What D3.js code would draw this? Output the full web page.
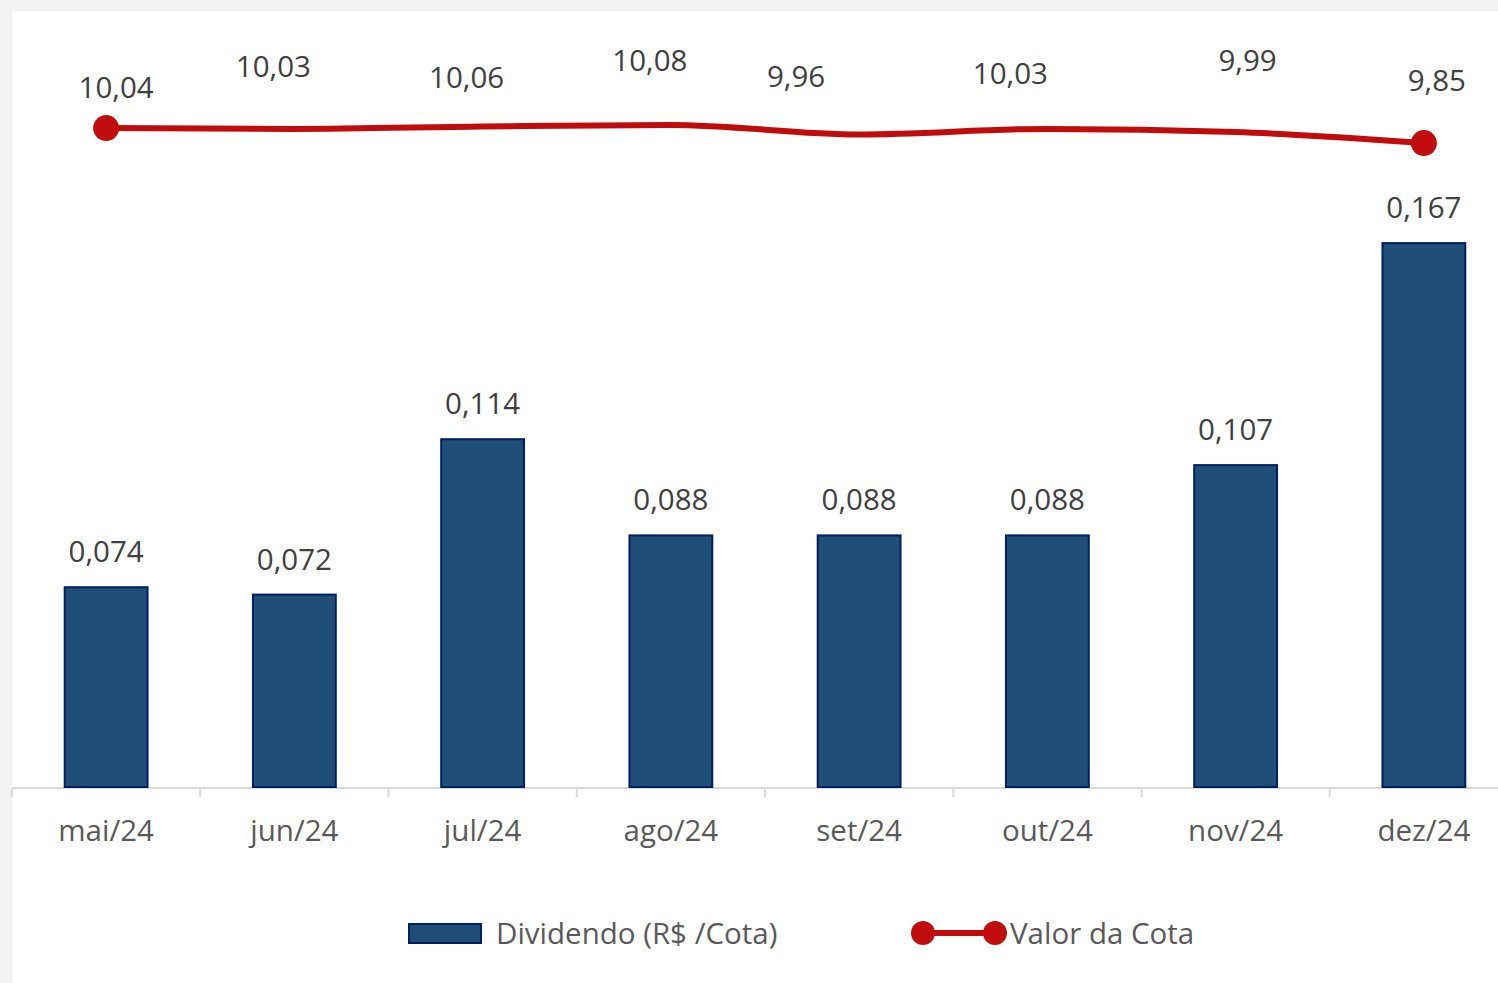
<!DOCTYPE html>
<html>
<head>
<meta charset="utf-8">
<script src="https://cdn.jsdelivr.net/npm/d3@7"></script>
<style>
  body { margin: 0; background: #f2f2f2; }
  svg { display: block; font-family: "Open Sans", "Noto Sans", sans-serif; }
</style>
</head>
<body>
<svg id="chart"></svg>
<script>
/* dividend bars + quota value line */

const months = ["mai/24", "jun/24", "jul/24", "ago/24", "set/24", "out/24", "nov/24", "dez/24"];
const dividendo = [0.074, 0.072, 0.114, 0.088, 0.088, 0.088, 0.107, 0.167];
const valorCota = [10.04, 10.03, 10.06, 10.08, 9.96, 10.03, 9.99, 9.85];
// manual nudges of the quota labels (dx, dy from the point), as in the source
const cotaLabelNudge = [[10, -30], [-21, -52], [-16, -39], [-21, -54], [-63, -47], [-37, -45], [12, -61], [13, -52]];

const width = 1498, height = 983;
const fmt = (v, d) => v.toFixed(d).replace(".", ",");
const fs = "29.5px";

const svg = d3.select("#chart").attr("width", width).attr("height", height);

svg.append("rect").attr("x", 12).attr("y", 11)
  .attr("width", width - 12).attr("height", height - 11).attr("fill", "#fff");

/*** scales */
const x = d3.scaleBand().domain(months).range([12, 1518]).paddingInner(0.56).paddingOuter(0.28);
const y = d3.scaleLinear().domain([0.02, 0.18]).range([787, 195]);
const y2 = d3.scaleLinear().domain([9.0, 10.5]).range([210.2, 91.8]);

/*** x axis */
const xAxis = svg.append("g").attr("transform", "translate(0,788)");
xAxis.append("line").attr("x1", 12).attr("x2", 1518).attr("stroke", "#d9d9d9").attr("stroke-width", 2);
const step = x.step();
xAxis.selectAll("line.tick")
  .data(d3.range(months.length + 1))
  .join("line")
  .attr("class", "tick")
  .attr("x1", i => 12 + i * step).attr("x2", i => 12 + i * step)
  .attr("y1", 0).attr("y2", 9)
  .attr("stroke", "#d9d9d9").attr("stroke-width", 2);
xAxis.selectAll("text")
  .data(months)
  .join("text")
  .attr("x", d => x(d) + x.bandwidth() / 2)
  .attr("y", 53)
  .attr("text-anchor", "middle")
  .attr("font-size", fs)
  .attr("fill", "#595959")
  .text(d => d);

/*** bars */
svg.append("g")
  .selectAll("rect")
  .data(dividendo)
  .join("rect")
  .attr("x", (d, i) => x(months[i]))
  .attr("width", x.bandwidth())
  .attr("y", d => y(d))
  .attr("height", d => y(0.02) - y(d))
  .attr("fill", "#1f4e79")
  .attr("stroke", "#002060")
  .attr("stroke-width", 2);

svg.append("g")
  .selectAll("text")
  .data(dividendo)
  .join("text")
  .attr("x", (d, i) => x(months[i]) + x.bandwidth() / 2)
  .attr("y", d => y(d) - 25)
  .attr("text-anchor", "middle")
  .attr("font-size", fs)
  .attr("fill", "#404040")
  .text(d => fmt(d, 3));

/*** line */
const cx = i => x(months[i]) + x.bandwidth() / 2;
const line = d3.line().x((d, i) => cx(i)).y(d => y2(d)).curve(d3.curveMonotoneX);

svg.append("path")
  .datum(valorCota)
  .attr("d", line)
  .attr("fill", "none")
  .attr("stroke", "#c00c0c")
  .attr("stroke-width", 6);

svg.append("g")
  .selectAll("circle")
  .data([0, valorCota.length - 1])
  .join("circle")
  .attr("cx", i => cx(i))
  .attr("cy", i => y2(valorCota[i]))
  .attr("r", 13)
  .attr("fill", "#c00c0c");

svg.append("g")
  .selectAll("text")
  .data(valorCota)
  .join("text")
  .attr("x", (d, i) => cx(i) + cotaLabelNudge[i][0])
  .attr("y", (d, i) => y2(d) + cotaLabelNudge[i][1])
  .attr("text-anchor", "middle")
  .attr("font-size", fs)
  .attr("fill", "#404040")
  .text(d => fmt(d, 2));

/*** legend */
const legend = svg.append("g").attr("font-size", fs).attr("fill", "#595959");
legend.append("rect").attr("x", 409).attr("y", 924).attr("width", 72).attr("height", 19)
  .attr("fill", "#1f4e79").attr("stroke", "#002060").attr("stroke-width", 2);
legend.append("text").attr("x", 496).attr("y", 944).text("Dividendo (R$ /Cota)");

legend.append("line").attr("x1", 923).attr("x2", 995).attr("y1", 933).attr("y2", 933)
  .attr("stroke", "#c00c0c").attr("stroke-width", 6);
legend.selectAll("circle.lg")
  .data([923, 995])
  .join("circle")
  .attr("class", "lg")
  .attr("cx", d => d).attr("cy", 933).attr("r", 12)
  .attr("fill", "#c00c0c");
legend.append("text").attr("x", 1010).attr("y", 944).text("Valor da Cota");
</script>
</body>
</html>
